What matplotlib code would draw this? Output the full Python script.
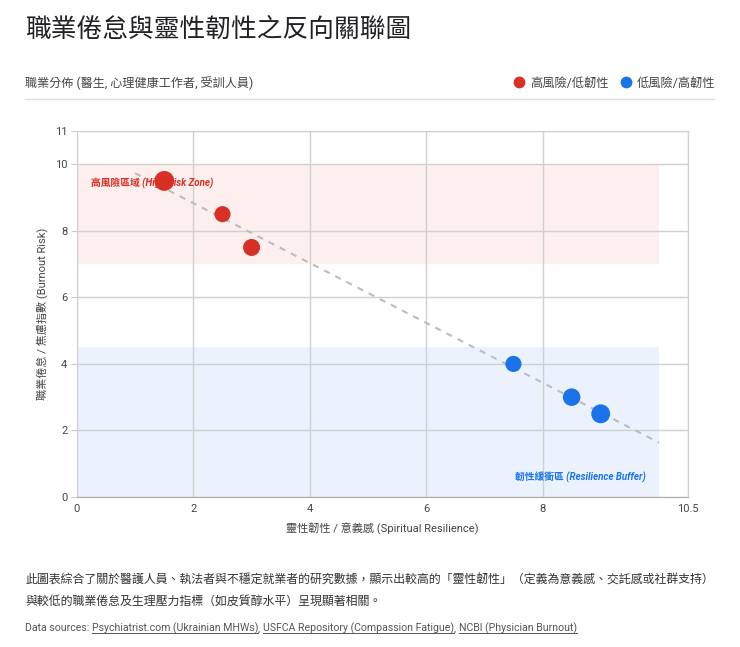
import matplotlib
matplotlib.use("Agg")
import matplotlib.pyplot as plt
from matplotlib.lines import Line2D
import numpy as np

plt.rcParams['font.family'] = ['Roboto', 'Noto Sans CJK TC', 'DejaVu Sans']

# data
resilience_high_risk = [1.5, 2.5, 3.0]
burnout_high_risk = [9.5, 8.5, 7.5]
size_high_risk = [205, 135, 150]

resilience_low_risk = [7.5, 8.5, 9.0]
burnout_low_risk = [4.0, 3.0, 2.5]
size_low_risk = [135, 160, 185]

x_ticks = [0, 2, 4, 6, 8, 10.5]
y_ticks = [0, 2, 4, 6, 8, 10, 11]

high_zone = (7, 10)
low_zone = (0, 4.5)
zone_x_end = 10
trend_range = (1, 10)

red = '#d93025'
blue = '#1a73e8'

W, H = 740, 647
fig = plt.figure(figsize=(W / 100, H / 100), dpi=100)


def fx(px):
    return px / W


def fy(py):
    return 1 - py / H


ax = fig.add_axes([fx(77), fy(497), fx(688) - fx(77), fy(131) - fy(497)])

ax.fill_between([0, zone_x_end], high_zone[0], high_zone[1], color='#fdefed', lw=0, zorder=0.2)
ax.fill_between([0, zone_x_end], low_zone[0], low_zone[1], color='#ebf2fd', lw=0, zorder=0.2)

# trend line from a least squares fit of all points
all_x = np.array(resilience_high_risk + resilience_low_risk)
all_y = np.array(burnout_high_risk + burnout_low_risk)
slope, intercept = np.polyfit(all_x, all_y, 1)
tx = np.array(trend_range)
ax.plot(tx, slope * tx + intercept, color='#bdbdbd', lw=1.5, ls=(0, (3, 3)), zorder=2)

ax.text(0.24, 9.42, '高風險區域 (High Risk Zone)', color=red, fontsize=7, style='italic',
        fontweight='bold', va='center', ha='left', zorder=3)
ax.text(9.78, 0.6, '韌性緩衝區 (Resilience Buffer)', color=blue, fontsize=7, style='italic',
        fontweight='bold', va='center', ha='right', zorder=3)

ax.scatter(resilience_high_risk, burnout_high_risk, s=size_high_risk, color=red, lw=0, zorder=4)
ax.scatter(resilience_low_risk, burnout_low_risk, s=size_low_risk, color=blue, lw=0, zorder=4)

ax.set_xlim(0, 10.5)
ax.set_ylim(0, 11)
ax.set_xticks(x_ticks)
ax.set_xticklabels([str(t) for t in x_ticks])
ax.set_yticks(y_ticks)
ax.set_axisbelow(True)
ax.grid(True, color='#d0d0d0', lw=1)
for side in ['top', 'right', 'left']:
    ax.spines[side].set_color('#d0d0d0')
ax.spines['bottom'].set_color('#aaaaaa')
ax.tick_params(axis='x', length=0, pad=5, labelsize=8, labelcolor='#444444')
ax.tick_params(axis='y', length=4, color='#cccccc', pad=3, labelsize=8, labelcolor='#444444')

ax.set_xlabel('靈性韌性 / 意義感 (Spiritual Resilience)', fontsize=8, color='#444444', labelpad=6)
ax.set_ylabel('職業倦怠 / 焦慮指數 (Burnout Risk)', fontsize=8, color='#444444', labelpad=5)

# header
fig.text(fx(25), fy(30), '職業倦怠與靈性韌性之反向關聯圖', fontsize=18.5, color='#202124', va='center')
fig.text(fx(25), fy(83), '職業分佈 (醫生, 心理健康工作者, 受訓人員)', fontsize=8.7, color='#444444', va='center')
fig.add_artist(Line2D([fx(25), fx(714)], [fy(99), fy(99)], color='#dddddd', lw=1))

handles = [Line2D([], [], ls='', marker='o', ms=7.5, color=red, label='高風險/低韌性'),
           Line2D([], [], ls='', marker='o', ms=7.5, color=blue, label='低風險/高韌性')]
fig.legend(handles=handles, loc='center right', bbox_to_anchor=(fx(726), fy(83)), ncol=2,
           frameon=False, fontsize=8.8, handletextpad=0.1, columnspacing=0.6, handlelength=1.6,
           labelcolor='#444444')

# footer
fig.text(fx(25), fy(580), '此圖表綜合了關於醫護人員、執法者與不穩定就業者的研究數據，顯示出較高的「靈性韌性」（定義為意義感、交託感或社群支持）',
         fontsize=8.6, color='#333333', va='center')
fig.text(fx(25), fy(601), '與較低的職業倦怠及生理壓力指標（如皮質醇水平）呈現顯著相關。',
         fontsize=8.6, color='#333333', va='center')

source_parts = [('Data sources: ', False), ('Psychiatrist.com (Ukrainian MHWs)', True), (', ', False),
                ('USFCA Repository (Compassion Fatigue)', True), (', ', False),
                ('NCBI (Physician Burnout)', True)]
renderer = fig.canvas.get_renderer()
x_px = 25
for part, underline in source_parts:
    t = fig.text(fx(x_px), fy(628), part, fontsize=7.6, color='#555555', va='center')
    bb = t.get_window_extent(renderer)
    if underline:
        uy = bb.y0 + 1
        fig.add_artist(Line2D([bb.x0 / W, bb.x1 / W], [uy / H, uy / H], color='#555555', lw=0.7))
    x_px += bb.width

fig.savefig('out.png', dpi=100)
